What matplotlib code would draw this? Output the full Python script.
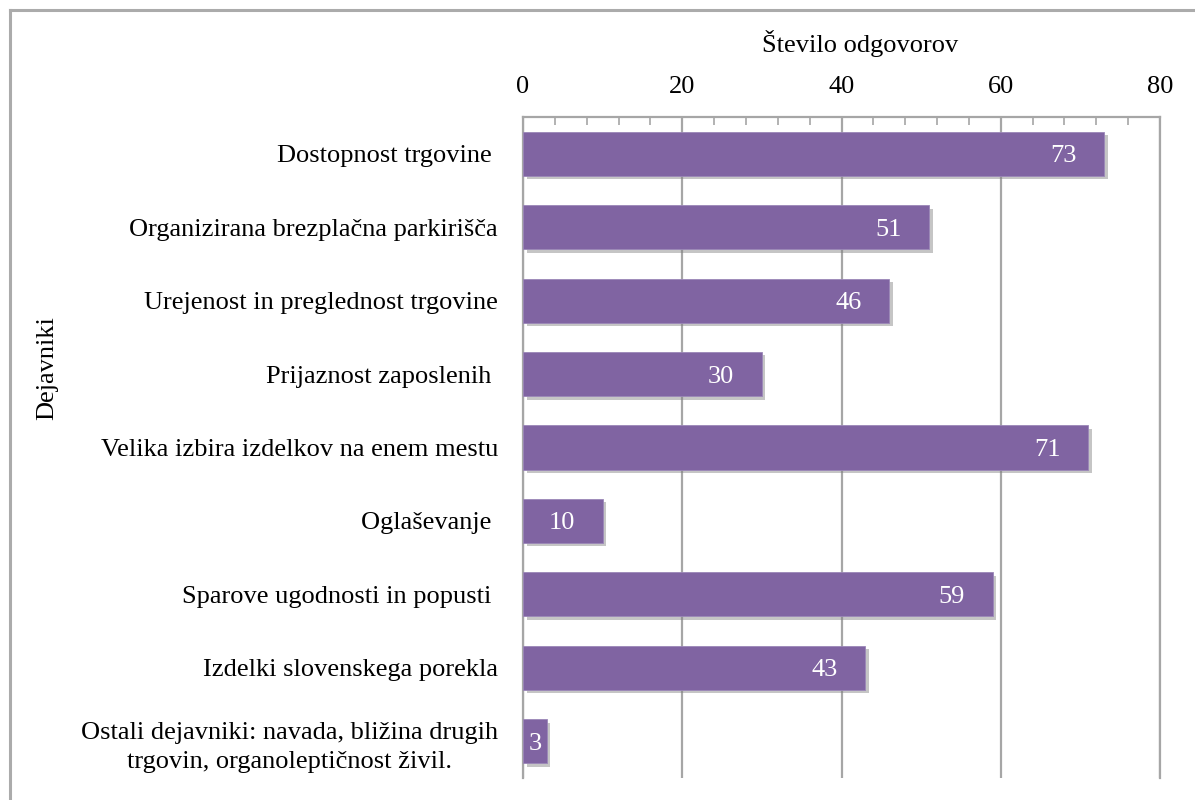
import matplotlib
matplotlib.use("Agg")
import matplotlib.pyplot as plt
import matplotlib.patheffects as pe
from matplotlib.lines import Line2D
from matplotlib.ticker import MultipleLocator

# --- data ---
categories = [
    "Dostopnost trgovine ",
    "Organizirana brezplačna parkirišča",
    "Urejenost in preglednost trgovine",
    "Prijaznost zaposlenih ",
    "Velika izbira izdelkov na enem mestu",
    "Oglaševanje ",
    "Sparove ugodnosti in popusti ",
    "Izdelki slovenskega porekla",
    "Ostali dejavniki: navada, bližina drugih\ntrgovin, organoleptičnost živil.",
]
values = [73, 51, 46, 30, 71, 10, 59, 43, 3]
x_ticks = [0, 20, 40, 60, 80]

bar_color = "#8064A2"
grid_color = "#A6A6A6"

plt.rcParams["font.family"] = ["Liberation Serif", "DejaVu Serif"]
plt.rcParams["font.size"] = 19

fig = plt.figure(figsize=(11.95, 8), dpi=100)
ax = fig.add_axes([0.4377, 0.0275, 0.533, 0.82625])

ypos = list(range(len(categories)))
bars = ax.barh(ypos, values, height=0.6, color=bar_color, zorder=3,
               edgecolor="#9B87B8", linewidth=0.6)
for b in bars:
    b.set_path_effects([pe.SimplePatchShadow(offset=(2.5, -2.5), shadow_rgbFace="#7f7f7f", alpha=0.45),
                        pe.Normal()])

ax.set_xlim(x_ticks[0], x_ticks[-1])
ax.set_ylim(len(categories) - 0.5, -0.5)

# value labels inside the bar ends
for y, v in zip(ypos, values):
    if v < 5:
        ax.text(v / 2, y, str(v), ha="center", va="center_baseline", color="white", zorder=4)
    else:
        ax.annotate(str(v), xy=(v, y), xytext=(-20, 0), textcoords="offset points",
                    ha="right", va="center_baseline", color="white", zorder=4)

# x axis on top
ax.xaxis.tick_top()
ax.xaxis.set_label_position("top")
ax.set_xticks(x_ticks)
ax.xaxis.set_minor_locator(MultipleLocator(4))
ax.tick_params(axis="x", which="major", direction="in", length=10, width=1.2,
               color=grid_color, pad=14)
ax.tick_params(axis="x", which="minor", direction="in", length=6, width=1.2,
               color=grid_color)
ax.set_xlabel("Število odgovorov")
ax.xaxis.set_label_coords(0.529, 1.098)

ax.set_yticks(ypos)
ax.set_yticklabels(categories, ha="right", multialignment="center", linespacing=1.4)
ax.tick_params(axis="y", length=0, pad=18)
ax.set_ylabel("Dejavniki")
ax.yaxis.set_label_coords(-0.73, 0.62)

ax.grid(axis="x", which="major", color=grid_color, linewidth=1.6, zorder=0)
for side in ["top", "left", "right"]:
    ax.spines[side].set_color(grid_color)
    ax.spines[side].set_linewidth(1.6)
ax.spines["bottom"].set_visible(False)

# outer chart border (top and left visible in the crop)
fig.add_artist(Line2D([10 / 1195, 1.0], [1 - 10 / 800, 1 - 10 / 800],
                      transform=fig.transFigure, color="#ABABAB", linewidth=2.2))
fig.add_artist(Line2D([10 / 1195, 10 / 1195], [0.0, 1 - 10 / 800],
                      transform=fig.transFigure, color="#ABABAB", linewidth=2.2))

fig.savefig("out.png", dpi=100)
